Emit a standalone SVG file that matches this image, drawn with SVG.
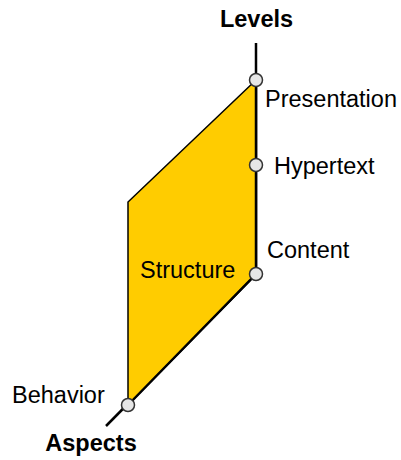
<svg xmlns="http://www.w3.org/2000/svg" width="401" height="460" viewBox="0 0 401 460">
<style>
text{font-family:"Liberation Sans",Arial,sans-serif;font-size:23.5px;fill:#000}
.b{font-weight:bold}
.axis{stroke:#000;stroke-width:2.5;fill:none}
.pt{fill:#e6e6e6;stroke:#333;stroke-width:1.5}
</style>
<g id="connectors">
<line class="axis" x1="256" y1="43" x2="256" y2="274"/>
<line class="axis" x1="256" y1="274" x2="106" y2="426"/>
</g>
<g id="structure">
<polygon points="256,80 128,202 128,405 256,274" fill="#ffcc00" stroke="#000" stroke-width="1.5" stroke-linejoin="miter"/>
<line class="axis" x1="256" y1="80" x2="256" y2="274"/>
<line class="axis" x1="256" y1="274" x2="128" y2="405"/>
<text x="140" y="278">Structure</text>
</g>
<g id="levels"><text class="b" x="256.5" y="27" text-anchor="middle">Levels</text></g>
<g id="aspects"><text class="b" x="91" y="451" text-anchor="middle">Aspects</text></g>
<g id="presentation"><circle class="pt" cx="256" cy="80" r="6.5"/><text x="265" y="107">Presentation</text></g>
<g id="hypertext"><circle class="pt" cx="256" cy="165" r="6.5"/><text x="274" y="174">Hypertext</text></g>
<g id="content"><circle class="pt" cx="256" cy="274" r="6.5"/><text x="267" y="258">Content</text></g>
<g id="behavior"><circle class="pt" cx="128" cy="405" r="6.5"/><text x="12" y="403">Behavior</text></g>
</svg>
